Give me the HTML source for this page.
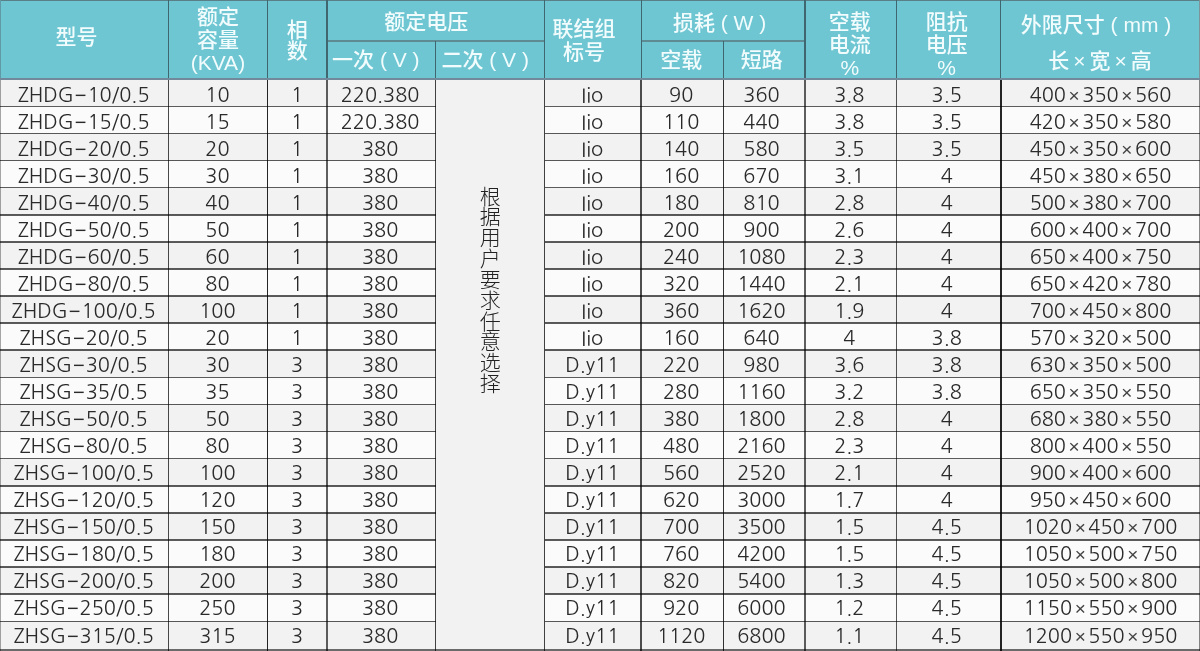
<!DOCTYPE html><html lang="zh-CN"><head><meta charset="utf-8"><title>ZHDG/ZHSG</title><style>
html,body{margin:0;padding:0;width:1200px;height:651px;overflow:hidden;background:#fff;position:relative}
.a{position:absolute;box-sizing:border-box}
.h{color:#f2fcfd;font-family:"Liberation Sans","Noto Sans CJK SC",sans-serif;font-size:21px;font-weight:500;text-align:center;white-space:nowrap;line-height:23px}
.t{color:#2a2a2a;font-family:"NanumGothic","Liberation Sans",sans-serif;font-size:20px;text-align:center;white-space:nowrap}
.x{margin:0 2.6px;font-family:"Liberation Sans",sans-serif;font-size:19px;color:#444}
.xh{margin:0 4px}
.m{margin:0 1px}
.ln{mix-blend-mode:multiply}
</style></head><body>
<div class="a" style="left:0;top:0;width:1200px;height:78.30px;background:#6ec6d2"></div>
<div class="a" style="left:0;top:78.30px;width:1200px;height:28.00px;background:#f2f2f2"></div>
<div class="a" style="left:0;top:106.30px;width:1200px;height:27.11px;background:#fbfbfb"></div>
<div class="a" style="left:0;top:133.41px;width:1200px;height:27.10px;background:#f2f2f2"></div>
<div class="a" style="left:0;top:160.51px;width:1200px;height:27.11px;background:#fbfbfb"></div>
<div class="a" style="left:0;top:187.62px;width:1200px;height:27.10px;background:#f2f2f2"></div>
<div class="a" style="left:0;top:214.72px;width:1200px;height:27.10px;background:#fbfbfb"></div>
<div class="a" style="left:0;top:241.82px;width:1200px;height:27.11px;background:#f2f2f2"></div>
<div class="a" style="left:0;top:268.93px;width:1200px;height:27.11px;background:#fbfbfb"></div>
<div class="a" style="left:0;top:296.04px;width:1200px;height:27.10px;background:#f2f2f2"></div>
<div class="a" style="left:0;top:323.14px;width:1200px;height:27.11px;background:#fbfbfb"></div>
<div class="a" style="left:0;top:350.25px;width:1200px;height:27.11px;background:#f2f2f2"></div>
<div class="a" style="left:0;top:377.35px;width:1200px;height:27.11px;background:#fbfbfb"></div>
<div class="a" style="left:0;top:404.46px;width:1200px;height:27.10px;background:#f2f2f2"></div>
<div class="a" style="left:0;top:431.56px;width:1200px;height:27.11px;background:#fbfbfb"></div>
<div class="a" style="left:0;top:458.67px;width:1200px;height:27.11px;background:#f2f2f2"></div>
<div class="a" style="left:0;top:485.77px;width:1200px;height:27.10px;background:#fbfbfb"></div>
<div class="a" style="left:0;top:512.88px;width:1200px;height:27.11px;background:#f2f2f2"></div>
<div class="a" style="left:0;top:539.98px;width:1200px;height:27.11px;background:#fbfbfb"></div>
<div class="a" style="left:0;top:567.09px;width:1200px;height:27.10px;background:#f2f2f2"></div>
<div class="a" style="left:0;top:594.19px;width:1200px;height:27.11px;background:#fbfbfb"></div>
<div class="a" style="left:0;top:621.29px;width:1200px;height:28.11px;background:#f2f2f2"></div>
<div class="a" style="left:435.60px;top:78.30px;width:109.10px;height:571.10px;background:#f2f2f2"></div>
<div class="a" style="left:0.00px;top:0.00px;width:1200.00px;height:1.20px;background:#5b7f86"></div>
<div class="a ln" style="left:0.00px;top:105.50px;width:435.60px;height:1.60px;background:#5c5c5c"></div>
<div class="a ln" style="left:544.70px;top:105.50px;width:655.30px;height:1.60px;background:#5c5c5c"></div>
<div class="a ln" style="left:0.00px;top:132.60px;width:435.60px;height:1.60px;background:#5c5c5c"></div>
<div class="a ln" style="left:544.70px;top:132.60px;width:655.30px;height:1.60px;background:#5c5c5c"></div>
<div class="a ln" style="left:0.00px;top:159.71px;width:435.60px;height:1.60px;background:#5c5c5c"></div>
<div class="a ln" style="left:544.70px;top:159.71px;width:655.30px;height:1.60px;background:#5c5c5c"></div>
<div class="a ln" style="left:0.00px;top:186.81px;width:435.60px;height:1.60px;background:#5c5c5c"></div>
<div class="a ln" style="left:544.70px;top:186.81px;width:655.30px;height:1.60px;background:#5c5c5c"></div>
<div class="a ln" style="left:0.00px;top:213.92px;width:435.60px;height:1.60px;background:#5c5c5c"></div>
<div class="a ln" style="left:544.70px;top:213.92px;width:655.30px;height:1.60px;background:#5c5c5c"></div>
<div class="a ln" style="left:0.00px;top:241.02px;width:435.60px;height:1.60px;background:#5c5c5c"></div>
<div class="a ln" style="left:544.70px;top:241.02px;width:655.30px;height:1.60px;background:#5c5c5c"></div>
<div class="a ln" style="left:0.00px;top:268.13px;width:435.60px;height:1.60px;background:#5c5c5c"></div>
<div class="a ln" style="left:544.70px;top:268.13px;width:655.30px;height:1.60px;background:#5c5c5c"></div>
<div class="a ln" style="left:0.00px;top:295.24px;width:435.60px;height:1.60px;background:#5c5c5c"></div>
<div class="a ln" style="left:544.70px;top:295.24px;width:655.30px;height:1.60px;background:#5c5c5c"></div>
<div class="a ln" style="left:0.00px;top:322.34px;width:435.60px;height:1.60px;background:#5c5c5c"></div>
<div class="a ln" style="left:544.70px;top:322.34px;width:655.30px;height:1.60px;background:#5c5c5c"></div>
<div class="a ln" style="left:0.00px;top:349.44px;width:435.60px;height:1.60px;background:#5c5c5c"></div>
<div class="a ln" style="left:544.70px;top:349.44px;width:655.30px;height:1.60px;background:#5c5c5c"></div>
<div class="a ln" style="left:0.00px;top:376.55px;width:435.60px;height:1.60px;background:#5c5c5c"></div>
<div class="a ln" style="left:544.70px;top:376.55px;width:655.30px;height:1.60px;background:#5c5c5c"></div>
<div class="a ln" style="left:0.00px;top:403.66px;width:435.60px;height:1.60px;background:#5c5c5c"></div>
<div class="a ln" style="left:544.70px;top:403.66px;width:655.30px;height:1.60px;background:#5c5c5c"></div>
<div class="a ln" style="left:0.00px;top:430.76px;width:435.60px;height:1.60px;background:#5c5c5c"></div>
<div class="a ln" style="left:544.70px;top:430.76px;width:655.30px;height:1.60px;background:#5c5c5c"></div>
<div class="a ln" style="left:0.00px;top:457.87px;width:435.60px;height:1.60px;background:#5c5c5c"></div>
<div class="a ln" style="left:544.70px;top:457.87px;width:655.30px;height:1.60px;background:#5c5c5c"></div>
<div class="a ln" style="left:0.00px;top:484.97px;width:435.60px;height:1.60px;background:#5c5c5c"></div>
<div class="a ln" style="left:544.70px;top:484.97px;width:655.30px;height:1.60px;background:#5c5c5c"></div>
<div class="a ln" style="left:0.00px;top:512.08px;width:435.60px;height:1.60px;background:#5c5c5c"></div>
<div class="a ln" style="left:544.70px;top:512.08px;width:655.30px;height:1.60px;background:#5c5c5c"></div>
<div class="a ln" style="left:0.00px;top:539.18px;width:435.60px;height:1.60px;background:#5c5c5c"></div>
<div class="a ln" style="left:544.70px;top:539.18px;width:655.30px;height:1.60px;background:#5c5c5c"></div>
<div class="a ln" style="left:0.00px;top:566.29px;width:435.60px;height:1.60px;background:#5c5c5c"></div>
<div class="a ln" style="left:544.70px;top:566.29px;width:655.30px;height:1.60px;background:#5c5c5c"></div>
<div class="a ln" style="left:0.00px;top:593.39px;width:435.60px;height:1.60px;background:#5c5c5c"></div>
<div class="a ln" style="left:544.70px;top:593.39px;width:655.30px;height:1.60px;background:#5c5c5c"></div>
<div class="a ln" style="left:0.00px;top:620.50px;width:435.60px;height:1.60px;background:#5c5c5c"></div>
<div class="a ln" style="left:544.70px;top:620.50px;width:655.30px;height:1.60px;background:#5c5c5c"></div>
<div class="a ln" style="left:0.00px;top:648.70px;width:1200.00px;height:2.30px;background:#6a6a6a"></div>
<div class="a" style="left:327.00px;top:40.45px;width:217.70px;height:1.50px;background:#5e8b93"></div>
<div class="a" style="left:641.20px;top:40.45px;width:163.80px;height:1.50px;background:#5e8b93"></div>
<div class="a" style="left:0.00px;top:0.00px;width:1.20px;height:78.30px;background:#5f9aa6"></div>
<div class="a ln" style="left:0.00px;top:78.30px;width:1.20px;height:572.70px;background:#a8a8a8"></div>
<div class="a" style="left:167.85px;top:0.00px;width:1.30px;height:78.30px;background:#40666f"></div>
<div class="a ln" style="left:167.70px;top:78.30px;width:1.60px;height:572.70px;background:#4a4a4a"></div>
<div class="a" style="left:266.65px;top:0.00px;width:1.30px;height:78.30px;background:#40666f"></div>
<div class="a ln" style="left:266.55px;top:78.30px;width:1.50px;height:572.70px;background:#262626"></div>
<div class="a" style="left:326.35px;top:0.00px;width:1.30px;height:78.30px;background:#40666f"></div>
<div class="a ln" style="left:326.10px;top:78.30px;width:1.80px;height:572.70px;background:#606060"></div>
<div class="a" style="left:434.95px;top:41.20px;width:1.30px;height:37.10px;background:#40666f"></div>
<div class="a ln" style="left:434.90px;top:78.30px;width:1.40px;height:572.70px;background:#444"></div>
<div class="a" style="left:544.05px;top:0.00px;width:1.30px;height:78.30px;background:#40666f"></div>
<div class="a ln" style="left:543.95px;top:78.30px;width:1.50px;height:572.70px;background:#444"></div>
<div class="a" style="left:640.55px;top:0.00px;width:1.30px;height:78.30px;background:#40666f"></div>
<div class="a ln" style="left:640.35px;top:78.30px;width:1.70px;height:572.70px;background:#505050"></div>
<div class="a" style="left:722.75px;top:41.20px;width:1.30px;height:37.10px;background:#40666f"></div>
<div class="a ln" style="left:722.65px;top:78.30px;width:1.50px;height:572.70px;background:#333"></div>
<div class="a" style="left:804.35px;top:0.00px;width:1.30px;height:78.30px;background:#40666f"></div>
<div class="a ln" style="left:804.05px;top:78.30px;width:1.90px;height:572.70px;background:#606060"></div>
<div class="a" style="left:895.95px;top:0.00px;width:1.30px;height:78.30px;background:#40666f"></div>
<div class="a ln" style="left:895.75px;top:78.30px;width:1.70px;height:572.70px;background:#585858"></div>
<div class="a" style="left:1000.15px;top:0.00px;width:1.30px;height:78.30px;background:#40666f"></div>
<div class="a ln" style="left:1000.05px;top:78.30px;width:1.50px;height:572.70px;background:#262626"></div>
<div class="a" style="left:1198.60px;top:0.00px;width:1.40px;height:78.30px;background:#7d949a"></div>
<div class="a ln" style="left:1198.60px;top:78.30px;width:1.40px;height:572.70px;background:#8a8a8a"></div>
<div class="a" style="left:0.00px;top:77.70px;width:1200.00px;height:2.00px;background:#71899a"></div>
<div class="a h" style="left:-7.50px;top:24.50px;width:168.00px;">型号</div>
<div class="a h" style="left:168.50px;top:5.00px;width:98.80px;">额定<br>容量<br>(KVA)</div>
<div class="a h" style="left:267.30px;top:19.00px;width:59.70px;line-height:21.2px">相<br>数</div>
<div class="a h" style="left:317.50px;top:10.00px;width:217.70px;">额定电压</div>
<div class="a h" style="left:321.50px;top:48.00px;width:108.60px;">一次 ( V )</div>
<div class="a h" style="left:430.60px;top:48.00px;width:109.10px;">二次 ( V )</div>
<div class="a h" style="left:535.70px;top:17.00px;width:96.50px;">联结组<br>标号</div>
<div class="a h" style="left:637.70px;top:10.50px;width:163.80px;">损耗 ( W )</div>
<div class="a h" style="left:640.20px;top:48.00px;width:82.20px;">空载</div>
<div class="a h" style="left:720.90px;top:48.00px;width:81.60px;">短路</div>
<div class="a h" style="left:804.00px;top:10.00px;width:91.60px;">空载<br>电流<br>%</div>
<div class="a h" style="left:894.60px;top:10.00px;width:104.20px;">阻抗<br>电压<br>%</div>
<div class="a h" style="left:996.80px;top:13.00px;width:198.40px;">外限尺寸 ( mm )</div>
<div class="a h" style="left:1000.80px;top:49.00px;width:198.40px;">长<span class="xh">×</span>宽<span class="xh">×</span>高</div>
<div class="a t" style="left:-0.30px;top:80.10px;width:168.00px;height:28.00px;line-height:28.00px;padding-top:1px">ZHDG<span class="m">−</span>10/0.5</div>
<div class="a t" style="left:168.00px;top:80.10px;width:98.80px;height:28.00px;line-height:28.00px;padding-top:1px">10</div>
<div class="a t" style="left:267.30px;top:80.10px;width:59.70px;height:28.00px;line-height:28.00px;padding-top:1px">1</div>
<div class="a t" style="left:325.80px;top:80.10px;width:108.60px;height:28.00px;line-height:28.00px;padding-top:1px">220.380</div>
<div class="a t" style="left:544.00px;top:80.10px;width:96.50px;height:28.00px;line-height:28.00px;padding-top:1px">Iio</div>
<div class="a t" style="left:640.10px;top:80.10px;width:82.20px;height:28.00px;line-height:28.00px;padding-top:1px">90</div>
<div class="a t" style="left:720.70px;top:80.10px;width:81.60px;height:28.00px;line-height:28.00px;padding-top:1px">360</div>
<div class="a t" style="left:803.50px;top:80.10px;width:91.60px;height:28.00px;line-height:28.00px;padding-top:1px">3.8</div>
<div class="a t" style="left:894.60px;top:80.10px;width:104.20px;height:28.00px;line-height:28.00px;padding-top:1px">3.5</div>
<div class="a t" style="left:1001.30px;top:80.10px;width:198.40px;height:28.00px;line-height:28.00px;padding-top:1px">400<span class="x">×</span>350<span class="x">×</span>560</div>
<div class="a t" style="left:-0.30px;top:107.99px;width:168.00px;height:27.11px;line-height:27.11px;padding-top:1px">ZHDG<span class="m">−</span>15/0.5</div>
<div class="a t" style="left:168.00px;top:107.99px;width:98.80px;height:27.11px;line-height:27.11px;padding-top:1px">15</div>
<div class="a t" style="left:267.30px;top:107.99px;width:59.70px;height:27.11px;line-height:27.11px;padding-top:1px">1</div>
<div class="a t" style="left:325.80px;top:107.99px;width:108.60px;height:27.11px;line-height:27.11px;padding-top:1px">220.380</div>
<div class="a t" style="left:544.00px;top:107.99px;width:96.50px;height:27.11px;line-height:27.11px;padding-top:1px">Iio</div>
<div class="a t" style="left:640.10px;top:107.99px;width:82.20px;height:27.11px;line-height:27.11px;padding-top:1px">110</div>
<div class="a t" style="left:720.70px;top:107.99px;width:81.60px;height:27.11px;line-height:27.11px;padding-top:1px">440</div>
<div class="a t" style="left:803.50px;top:107.99px;width:91.60px;height:27.11px;line-height:27.11px;padding-top:1px">3.8</div>
<div class="a t" style="left:894.60px;top:107.99px;width:104.20px;height:27.11px;line-height:27.11px;padding-top:1px">3.5</div>
<div class="a t" style="left:1001.30px;top:107.99px;width:198.40px;height:27.11px;line-height:27.11px;padding-top:1px">420<span class="x">×</span>350<span class="x">×</span>580</div>
<div class="a t" style="left:-0.30px;top:134.99px;width:168.00px;height:27.10px;line-height:27.10px;padding-top:1px">ZHDG<span class="m">−</span>20/0.5</div>
<div class="a t" style="left:168.00px;top:134.99px;width:98.80px;height:27.10px;line-height:27.10px;padding-top:1px">20</div>
<div class="a t" style="left:267.30px;top:134.99px;width:59.70px;height:27.10px;line-height:27.10px;padding-top:1px">1</div>
<div class="a t" style="left:325.80px;top:134.99px;width:108.60px;height:27.10px;line-height:27.10px;padding-top:1px">380</div>
<div class="a t" style="left:544.00px;top:134.99px;width:96.50px;height:27.10px;line-height:27.10px;padding-top:1px">Iio</div>
<div class="a t" style="left:640.10px;top:134.99px;width:82.20px;height:27.10px;line-height:27.10px;padding-top:1px">140</div>
<div class="a t" style="left:720.70px;top:134.99px;width:81.60px;height:27.10px;line-height:27.10px;padding-top:1px">580</div>
<div class="a t" style="left:803.50px;top:134.99px;width:91.60px;height:27.10px;line-height:27.10px;padding-top:1px">3.5</div>
<div class="a t" style="left:894.60px;top:134.99px;width:104.20px;height:27.10px;line-height:27.10px;padding-top:1px">3.5</div>
<div class="a t" style="left:1001.30px;top:134.99px;width:198.40px;height:27.10px;line-height:27.10px;padding-top:1px">450<span class="x">×</span>350<span class="x">×</span>600</div>
<div class="a t" style="left:-0.30px;top:161.98px;width:168.00px;height:27.11px;line-height:27.11px;padding-top:1px">ZHDG<span class="m">−</span>30/0.5</div>
<div class="a t" style="left:168.00px;top:161.98px;width:98.80px;height:27.11px;line-height:27.11px;padding-top:1px">30</div>
<div class="a t" style="left:267.30px;top:161.98px;width:59.70px;height:27.11px;line-height:27.11px;padding-top:1px">1</div>
<div class="a t" style="left:325.80px;top:161.98px;width:108.60px;height:27.11px;line-height:27.11px;padding-top:1px">380</div>
<div class="a t" style="left:544.00px;top:161.98px;width:96.50px;height:27.11px;line-height:27.11px;padding-top:1px">Iio</div>
<div class="a t" style="left:640.10px;top:161.98px;width:82.20px;height:27.11px;line-height:27.11px;padding-top:1px">160</div>
<div class="a t" style="left:720.70px;top:161.98px;width:81.60px;height:27.11px;line-height:27.11px;padding-top:1px">670</div>
<div class="a t" style="left:803.50px;top:161.98px;width:91.60px;height:27.11px;line-height:27.11px;padding-top:1px">3.1</div>
<div class="a t" style="left:894.60px;top:161.98px;width:104.20px;height:27.11px;line-height:27.11px;padding-top:1px">4</div>
<div class="a t" style="left:1001.30px;top:161.98px;width:198.40px;height:27.11px;line-height:27.11px;padding-top:1px">450<span class="x">×</span>380<span class="x">×</span>650</div>
<div class="a t" style="left:-0.30px;top:188.98px;width:168.00px;height:27.10px;line-height:27.10px;padding-top:1px">ZHDG<span class="m">−</span>40/0.5</div>
<div class="a t" style="left:168.00px;top:188.98px;width:98.80px;height:27.10px;line-height:27.10px;padding-top:1px">40</div>
<div class="a t" style="left:267.30px;top:188.98px;width:59.70px;height:27.10px;line-height:27.10px;padding-top:1px">1</div>
<div class="a t" style="left:325.80px;top:188.98px;width:108.60px;height:27.10px;line-height:27.10px;padding-top:1px">380</div>
<div class="a t" style="left:544.00px;top:188.98px;width:96.50px;height:27.10px;line-height:27.10px;padding-top:1px">Iio</div>
<div class="a t" style="left:640.10px;top:188.98px;width:82.20px;height:27.10px;line-height:27.10px;padding-top:1px">180</div>
<div class="a t" style="left:720.70px;top:188.98px;width:81.60px;height:27.10px;line-height:27.10px;padding-top:1px">810</div>
<div class="a t" style="left:803.50px;top:188.98px;width:91.60px;height:27.10px;line-height:27.10px;padding-top:1px">2.8</div>
<div class="a t" style="left:894.60px;top:188.98px;width:104.20px;height:27.10px;line-height:27.10px;padding-top:1px">4</div>
<div class="a t" style="left:1001.30px;top:188.98px;width:198.40px;height:27.10px;line-height:27.10px;padding-top:1px">500<span class="x">×</span>380<span class="x">×</span>700</div>
<div class="a t" style="left:-0.30px;top:215.97px;width:168.00px;height:27.10px;line-height:27.10px;padding-top:1px">ZHDG<span class="m">−</span>50/0.5</div>
<div class="a t" style="left:168.00px;top:215.97px;width:98.80px;height:27.10px;line-height:27.10px;padding-top:1px">50</div>
<div class="a t" style="left:267.30px;top:215.97px;width:59.70px;height:27.10px;line-height:27.10px;padding-top:1px">1</div>
<div class="a t" style="left:325.80px;top:215.97px;width:108.60px;height:27.10px;line-height:27.10px;padding-top:1px">380</div>
<div class="a t" style="left:544.00px;top:215.97px;width:96.50px;height:27.10px;line-height:27.10px;padding-top:1px">Iio</div>
<div class="a t" style="left:640.10px;top:215.97px;width:82.20px;height:27.10px;line-height:27.10px;padding-top:1px">200</div>
<div class="a t" style="left:720.70px;top:215.97px;width:81.60px;height:27.10px;line-height:27.10px;padding-top:1px">900</div>
<div class="a t" style="left:803.50px;top:215.97px;width:91.60px;height:27.10px;line-height:27.10px;padding-top:1px">2.6</div>
<div class="a t" style="left:894.60px;top:215.97px;width:104.20px;height:27.10px;line-height:27.10px;padding-top:1px">4</div>
<div class="a t" style="left:1001.30px;top:215.97px;width:198.40px;height:27.10px;line-height:27.10px;padding-top:1px">600<span class="x">×</span>400<span class="x">×</span>700</div>
<div class="a t" style="left:-0.30px;top:242.97px;width:168.00px;height:27.11px;line-height:27.11px;padding-top:1px">ZHDG<span class="m">−</span>60/0.5</div>
<div class="a t" style="left:168.00px;top:242.97px;width:98.80px;height:27.11px;line-height:27.11px;padding-top:1px">60</div>
<div class="a t" style="left:267.30px;top:242.97px;width:59.70px;height:27.11px;line-height:27.11px;padding-top:1px">1</div>
<div class="a t" style="left:325.80px;top:242.97px;width:108.60px;height:27.11px;line-height:27.11px;padding-top:1px">380</div>
<div class="a t" style="left:544.00px;top:242.97px;width:96.50px;height:27.11px;line-height:27.11px;padding-top:1px">Iio</div>
<div class="a t" style="left:640.10px;top:242.97px;width:82.20px;height:27.11px;line-height:27.11px;padding-top:1px">240</div>
<div class="a t" style="left:720.70px;top:242.97px;width:81.60px;height:27.11px;line-height:27.11px;padding-top:1px">1080</div>
<div class="a t" style="left:803.50px;top:242.97px;width:91.60px;height:27.11px;line-height:27.11px;padding-top:1px">2.3</div>
<div class="a t" style="left:894.60px;top:242.97px;width:104.20px;height:27.11px;line-height:27.11px;padding-top:1px">4</div>
<div class="a t" style="left:1001.30px;top:242.97px;width:198.40px;height:27.11px;line-height:27.11px;padding-top:1px">650<span class="x">×</span>400<span class="x">×</span>750</div>
<div class="a t" style="left:-0.30px;top:269.96px;width:168.00px;height:27.11px;line-height:27.11px;padding-top:1px">ZHDG<span class="m">−</span>80/0.5</div>
<div class="a t" style="left:168.00px;top:269.96px;width:98.80px;height:27.11px;line-height:27.11px;padding-top:1px">80</div>
<div class="a t" style="left:267.30px;top:269.96px;width:59.70px;height:27.11px;line-height:27.11px;padding-top:1px">1</div>
<div class="a t" style="left:325.80px;top:269.96px;width:108.60px;height:27.11px;line-height:27.11px;padding-top:1px">380</div>
<div class="a t" style="left:544.00px;top:269.96px;width:96.50px;height:27.11px;line-height:27.11px;padding-top:1px">Iio</div>
<div class="a t" style="left:640.10px;top:269.96px;width:82.20px;height:27.11px;line-height:27.11px;padding-top:1px">320</div>
<div class="a t" style="left:720.70px;top:269.96px;width:81.60px;height:27.11px;line-height:27.11px;padding-top:1px">1440</div>
<div class="a t" style="left:803.50px;top:269.96px;width:91.60px;height:27.11px;line-height:27.11px;padding-top:1px">2.1</div>
<div class="a t" style="left:894.60px;top:269.96px;width:104.20px;height:27.11px;line-height:27.11px;padding-top:1px">4</div>
<div class="a t" style="left:1001.30px;top:269.96px;width:198.40px;height:27.11px;line-height:27.11px;padding-top:1px">650<span class="x">×</span>420<span class="x">×</span>780</div>
<div class="a t" style="left:-0.30px;top:296.96px;width:168.00px;height:27.10px;line-height:27.10px;padding-top:1px">ZHDG<span class="m">−</span>100/0.5</div>
<div class="a t" style="left:168.00px;top:296.96px;width:98.80px;height:27.10px;line-height:27.10px;padding-top:1px">100</div>
<div class="a t" style="left:267.30px;top:296.96px;width:59.70px;height:27.10px;line-height:27.10px;padding-top:1px">1</div>
<div class="a t" style="left:325.80px;top:296.96px;width:108.60px;height:27.10px;line-height:27.10px;padding-top:1px">380</div>
<div class="a t" style="left:544.00px;top:296.96px;width:96.50px;height:27.10px;line-height:27.10px;padding-top:1px">Iio</div>
<div class="a t" style="left:640.10px;top:296.96px;width:82.20px;height:27.10px;line-height:27.10px;padding-top:1px">360</div>
<div class="a t" style="left:720.70px;top:296.96px;width:81.60px;height:27.10px;line-height:27.10px;padding-top:1px">1620</div>
<div class="a t" style="left:803.50px;top:296.96px;width:91.60px;height:27.10px;line-height:27.10px;padding-top:1px">1.9</div>
<div class="a t" style="left:894.60px;top:296.96px;width:104.20px;height:27.10px;line-height:27.10px;padding-top:1px">4</div>
<div class="a t" style="left:1001.30px;top:296.96px;width:198.40px;height:27.10px;line-height:27.10px;padding-top:1px">700<span class="x">×</span>450<span class="x">×</span>800</div>
<div class="a t" style="left:-0.30px;top:323.95px;width:168.00px;height:27.11px;line-height:27.11px;padding-top:1px">ZHSG<span class="m">−</span>20/0.5</div>
<div class="a t" style="left:168.00px;top:323.95px;width:98.80px;height:27.11px;line-height:27.11px;padding-top:1px">20</div>
<div class="a t" style="left:267.30px;top:323.95px;width:59.70px;height:27.11px;line-height:27.11px;padding-top:1px">1</div>
<div class="a t" style="left:325.80px;top:323.95px;width:108.60px;height:27.11px;line-height:27.11px;padding-top:1px">380</div>
<div class="a t" style="left:544.00px;top:323.95px;width:96.50px;height:27.11px;line-height:27.11px;padding-top:1px">Iio</div>
<div class="a t" style="left:640.10px;top:323.95px;width:82.20px;height:27.11px;line-height:27.11px;padding-top:1px">160</div>
<div class="a t" style="left:720.70px;top:323.95px;width:81.60px;height:27.11px;line-height:27.11px;padding-top:1px">640</div>
<div class="a t" style="left:803.50px;top:323.95px;width:91.60px;height:27.11px;line-height:27.11px;padding-top:1px">4</div>
<div class="a t" style="left:894.60px;top:323.95px;width:104.20px;height:27.11px;line-height:27.11px;padding-top:1px">3.8</div>
<div class="a t" style="left:1001.30px;top:323.95px;width:198.40px;height:27.11px;line-height:27.11px;padding-top:1px">570<span class="x">×</span>320<span class="x">×</span>500</div>
<div class="a t" style="left:-0.30px;top:350.94px;width:168.00px;height:27.11px;line-height:27.11px;padding-top:1px">ZHSG<span class="m">−</span>30/0.5</div>
<div class="a t" style="left:168.00px;top:350.94px;width:98.80px;height:27.11px;line-height:27.11px;padding-top:1px">30</div>
<div class="a t" style="left:267.30px;top:350.94px;width:59.70px;height:27.11px;line-height:27.11px;padding-top:1px">3</div>
<div class="a t" style="left:325.80px;top:350.94px;width:108.60px;height:27.11px;line-height:27.11px;padding-top:1px">380</div>
<div class="a t" style="left:544.00px;top:350.94px;width:96.50px;height:27.11px;line-height:27.11px;padding-top:1px">D.y11</div>
<div class="a t" style="left:640.10px;top:350.94px;width:82.20px;height:27.11px;line-height:27.11px;padding-top:1px">220</div>
<div class="a t" style="left:720.70px;top:350.94px;width:81.60px;height:27.11px;line-height:27.11px;padding-top:1px">980</div>
<div class="a t" style="left:803.50px;top:350.94px;width:91.60px;height:27.11px;line-height:27.11px;padding-top:1px">3.6</div>
<div class="a t" style="left:894.60px;top:350.94px;width:104.20px;height:27.11px;line-height:27.11px;padding-top:1px">3.8</div>
<div class="a t" style="left:1001.30px;top:350.94px;width:198.40px;height:27.11px;line-height:27.11px;padding-top:1px">630<span class="x">×</span>350<span class="x">×</span>500</div>
<div class="a t" style="left:-0.30px;top:377.94px;width:168.00px;height:27.11px;line-height:27.11px;padding-top:1px">ZHSG<span class="m">−</span>35/0.5</div>
<div class="a t" style="left:168.00px;top:377.94px;width:98.80px;height:27.11px;line-height:27.11px;padding-top:1px">35</div>
<div class="a t" style="left:267.30px;top:377.94px;width:59.70px;height:27.11px;line-height:27.11px;padding-top:1px">3</div>
<div class="a t" style="left:325.80px;top:377.94px;width:108.60px;height:27.11px;line-height:27.11px;padding-top:1px">380</div>
<div class="a t" style="left:544.00px;top:377.94px;width:96.50px;height:27.11px;line-height:27.11px;padding-top:1px">D.y11</div>
<div class="a t" style="left:640.10px;top:377.94px;width:82.20px;height:27.11px;line-height:27.11px;padding-top:1px">280</div>
<div class="a t" style="left:720.70px;top:377.94px;width:81.60px;height:27.11px;line-height:27.11px;padding-top:1px">1160</div>
<div class="a t" style="left:803.50px;top:377.94px;width:91.60px;height:27.11px;line-height:27.11px;padding-top:1px">3.2</div>
<div class="a t" style="left:894.60px;top:377.94px;width:104.20px;height:27.11px;line-height:27.11px;padding-top:1px">3.8</div>
<div class="a t" style="left:1001.30px;top:377.94px;width:198.40px;height:27.11px;line-height:27.11px;padding-top:1px">650<span class="x">×</span>350<span class="x">×</span>550</div>
<div class="a t" style="left:-0.30px;top:404.94px;width:168.00px;height:27.10px;line-height:27.10px;padding-top:1px">ZHSG<span class="m">−</span>50/0.5</div>
<div class="a t" style="left:168.00px;top:404.94px;width:98.80px;height:27.10px;line-height:27.10px;padding-top:1px">50</div>
<div class="a t" style="left:267.30px;top:404.94px;width:59.70px;height:27.10px;line-height:27.10px;padding-top:1px">3</div>
<div class="a t" style="left:325.80px;top:404.94px;width:108.60px;height:27.10px;line-height:27.10px;padding-top:1px">380</div>
<div class="a t" style="left:544.00px;top:404.94px;width:96.50px;height:27.10px;line-height:27.10px;padding-top:1px">D.y11</div>
<div class="a t" style="left:640.10px;top:404.94px;width:82.20px;height:27.10px;line-height:27.10px;padding-top:1px">380</div>
<div class="a t" style="left:720.70px;top:404.94px;width:81.60px;height:27.10px;line-height:27.10px;padding-top:1px">1800</div>
<div class="a t" style="left:803.50px;top:404.94px;width:91.60px;height:27.10px;line-height:27.10px;padding-top:1px">2.8</div>
<div class="a t" style="left:894.60px;top:404.94px;width:104.20px;height:27.10px;line-height:27.10px;padding-top:1px">4</div>
<div class="a t" style="left:1001.30px;top:404.94px;width:198.40px;height:27.10px;line-height:27.10px;padding-top:1px">680<span class="x">×</span>380<span class="x">×</span>550</div>
<div class="a t" style="left:-0.30px;top:431.93px;width:168.00px;height:27.11px;line-height:27.11px;padding-top:1px">ZHSG<span class="m">−</span>80/0.5</div>
<div class="a t" style="left:168.00px;top:431.93px;width:98.80px;height:27.11px;line-height:27.11px;padding-top:1px">80</div>
<div class="a t" style="left:267.30px;top:431.93px;width:59.70px;height:27.11px;line-height:27.11px;padding-top:1px">3</div>
<div class="a t" style="left:325.80px;top:431.93px;width:108.60px;height:27.11px;line-height:27.11px;padding-top:1px">380</div>
<div class="a t" style="left:544.00px;top:431.93px;width:96.50px;height:27.11px;line-height:27.11px;padding-top:1px">D.y11</div>
<div class="a t" style="left:640.10px;top:431.93px;width:82.20px;height:27.11px;line-height:27.11px;padding-top:1px">480</div>
<div class="a t" style="left:720.70px;top:431.93px;width:81.60px;height:27.11px;line-height:27.11px;padding-top:1px">2160</div>
<div class="a t" style="left:803.50px;top:431.93px;width:91.60px;height:27.11px;line-height:27.11px;padding-top:1px">2.3</div>
<div class="a t" style="left:894.60px;top:431.93px;width:104.20px;height:27.11px;line-height:27.11px;padding-top:1px">4</div>
<div class="a t" style="left:1001.30px;top:431.93px;width:198.40px;height:27.11px;line-height:27.11px;padding-top:1px">800<span class="x">×</span>400<span class="x">×</span>550</div>
<div class="a t" style="left:-0.30px;top:458.93px;width:168.00px;height:27.11px;line-height:27.11px;padding-top:1px">ZHSG<span class="m">−</span>100/0.5</div>
<div class="a t" style="left:168.00px;top:458.93px;width:98.80px;height:27.11px;line-height:27.11px;padding-top:1px">100</div>
<div class="a t" style="left:267.30px;top:458.93px;width:59.70px;height:27.11px;line-height:27.11px;padding-top:1px">3</div>
<div class="a t" style="left:325.80px;top:458.93px;width:108.60px;height:27.11px;line-height:27.11px;padding-top:1px">380</div>
<div class="a t" style="left:544.00px;top:458.93px;width:96.50px;height:27.11px;line-height:27.11px;padding-top:1px">D.y11</div>
<div class="a t" style="left:640.10px;top:458.93px;width:82.20px;height:27.11px;line-height:27.11px;padding-top:1px">560</div>
<div class="a t" style="left:720.70px;top:458.93px;width:81.60px;height:27.11px;line-height:27.11px;padding-top:1px">2520</div>
<div class="a t" style="left:803.50px;top:458.93px;width:91.60px;height:27.11px;line-height:27.11px;padding-top:1px">2.1</div>
<div class="a t" style="left:894.60px;top:458.93px;width:104.20px;height:27.11px;line-height:27.11px;padding-top:1px">4</div>
<div class="a t" style="left:1001.30px;top:458.93px;width:198.40px;height:27.11px;line-height:27.11px;padding-top:1px">900<span class="x">×</span>400<span class="x">×</span>600</div>
<div class="a t" style="left:-0.30px;top:485.92px;width:168.00px;height:27.10px;line-height:27.10px;padding-top:1px">ZHSG<span class="m">−</span>120/0.5</div>
<div class="a t" style="left:168.00px;top:485.92px;width:98.80px;height:27.10px;line-height:27.10px;padding-top:1px">120</div>
<div class="a t" style="left:267.30px;top:485.92px;width:59.70px;height:27.10px;line-height:27.10px;padding-top:1px">3</div>
<div class="a t" style="left:325.80px;top:485.92px;width:108.60px;height:27.10px;line-height:27.10px;padding-top:1px">380</div>
<div class="a t" style="left:544.00px;top:485.92px;width:96.50px;height:27.10px;line-height:27.10px;padding-top:1px">D.y11</div>
<div class="a t" style="left:640.10px;top:485.92px;width:82.20px;height:27.10px;line-height:27.10px;padding-top:1px">620</div>
<div class="a t" style="left:720.70px;top:485.92px;width:81.60px;height:27.10px;line-height:27.10px;padding-top:1px">3000</div>
<div class="a t" style="left:803.50px;top:485.92px;width:91.60px;height:27.10px;line-height:27.10px;padding-top:1px">1.7</div>
<div class="a t" style="left:894.60px;top:485.92px;width:104.20px;height:27.10px;line-height:27.10px;padding-top:1px">4</div>
<div class="a t" style="left:1001.30px;top:485.92px;width:198.40px;height:27.10px;line-height:27.10px;padding-top:1px">950<span class="x">×</span>450<span class="x">×</span>600</div>
<div class="a t" style="left:-0.30px;top:512.91px;width:168.00px;height:27.11px;line-height:27.11px;padding-top:1px">ZHSG<span class="m">−</span>150/0.5</div>
<div class="a t" style="left:168.00px;top:512.91px;width:98.80px;height:27.11px;line-height:27.11px;padding-top:1px">150</div>
<div class="a t" style="left:267.30px;top:512.91px;width:59.70px;height:27.11px;line-height:27.11px;padding-top:1px">3</div>
<div class="a t" style="left:325.80px;top:512.91px;width:108.60px;height:27.11px;line-height:27.11px;padding-top:1px">380</div>
<div class="a t" style="left:544.00px;top:512.91px;width:96.50px;height:27.11px;line-height:27.11px;padding-top:1px">D.y11</div>
<div class="a t" style="left:640.10px;top:512.91px;width:82.20px;height:27.11px;line-height:27.11px;padding-top:1px">700</div>
<div class="a t" style="left:720.70px;top:512.91px;width:81.60px;height:27.11px;line-height:27.11px;padding-top:1px">3500</div>
<div class="a t" style="left:803.50px;top:512.91px;width:91.60px;height:27.11px;line-height:27.11px;padding-top:1px">1.5</div>
<div class="a t" style="left:894.60px;top:512.91px;width:104.20px;height:27.11px;line-height:27.11px;padding-top:1px">4.5</div>
<div class="a t" style="left:1001.30px;top:512.91px;width:198.40px;height:27.11px;line-height:27.11px;padding-top:1px">1020<span class="x">×</span>450<span class="x">×</span>700</div>
<div class="a t" style="left:-0.30px;top:539.91px;width:168.00px;height:27.11px;line-height:27.11px;padding-top:1px">ZHSG<span class="m">−</span>180/0.5</div>
<div class="a t" style="left:168.00px;top:539.91px;width:98.80px;height:27.11px;line-height:27.11px;padding-top:1px">180</div>
<div class="a t" style="left:267.30px;top:539.91px;width:59.70px;height:27.11px;line-height:27.11px;padding-top:1px">3</div>
<div class="a t" style="left:325.80px;top:539.91px;width:108.60px;height:27.11px;line-height:27.11px;padding-top:1px">380</div>
<div class="a t" style="left:544.00px;top:539.91px;width:96.50px;height:27.11px;line-height:27.11px;padding-top:1px">D.y11</div>
<div class="a t" style="left:640.10px;top:539.91px;width:82.20px;height:27.11px;line-height:27.11px;padding-top:1px">760</div>
<div class="a t" style="left:720.70px;top:539.91px;width:81.60px;height:27.11px;line-height:27.11px;padding-top:1px">4200</div>
<div class="a t" style="left:803.50px;top:539.91px;width:91.60px;height:27.11px;line-height:27.11px;padding-top:1px">1.5</div>
<div class="a t" style="left:894.60px;top:539.91px;width:104.20px;height:27.11px;line-height:27.11px;padding-top:1px">4.5</div>
<div class="a t" style="left:1001.30px;top:539.91px;width:198.40px;height:27.11px;line-height:27.11px;padding-top:1px">1050<span class="x">×</span>500<span class="x">×</span>750</div>
<div class="a t" style="left:-0.30px;top:566.90px;width:168.00px;height:27.10px;line-height:27.10px;padding-top:1px">ZHSG<span class="m">−</span>200/0.5</div>
<div class="a t" style="left:168.00px;top:566.90px;width:98.80px;height:27.10px;line-height:27.10px;padding-top:1px">200</div>
<div class="a t" style="left:267.30px;top:566.90px;width:59.70px;height:27.10px;line-height:27.10px;padding-top:1px">3</div>
<div class="a t" style="left:325.80px;top:566.90px;width:108.60px;height:27.10px;line-height:27.10px;padding-top:1px">380</div>
<div class="a t" style="left:544.00px;top:566.90px;width:96.50px;height:27.10px;line-height:27.10px;padding-top:1px">D.y11</div>
<div class="a t" style="left:640.10px;top:566.90px;width:82.20px;height:27.10px;line-height:27.10px;padding-top:1px">820</div>
<div class="a t" style="left:720.70px;top:566.90px;width:81.60px;height:27.10px;line-height:27.10px;padding-top:1px">5400</div>
<div class="a t" style="left:803.50px;top:566.90px;width:91.60px;height:27.10px;line-height:27.10px;padding-top:1px">1.3</div>
<div class="a t" style="left:894.60px;top:566.90px;width:104.20px;height:27.10px;line-height:27.10px;padding-top:1px">4.5</div>
<div class="a t" style="left:1001.30px;top:566.90px;width:198.40px;height:27.10px;line-height:27.10px;padding-top:1px">1050<span class="x">×</span>500<span class="x">×</span>800</div>
<div class="a t" style="left:-0.30px;top:593.90px;width:168.00px;height:27.11px;line-height:27.11px;padding-top:1px">ZHSG<span class="m">−</span>250/0.5</div>
<div class="a t" style="left:168.00px;top:593.90px;width:98.80px;height:27.11px;line-height:27.11px;padding-top:1px">250</div>
<div class="a t" style="left:267.30px;top:593.90px;width:59.70px;height:27.11px;line-height:27.11px;padding-top:1px">3</div>
<div class="a t" style="left:325.80px;top:593.90px;width:108.60px;height:27.11px;line-height:27.11px;padding-top:1px">380</div>
<div class="a t" style="left:544.00px;top:593.90px;width:96.50px;height:27.11px;line-height:27.11px;padding-top:1px">D.y11</div>
<div class="a t" style="left:640.10px;top:593.90px;width:82.20px;height:27.11px;line-height:27.11px;padding-top:1px">920</div>
<div class="a t" style="left:720.70px;top:593.90px;width:81.60px;height:27.11px;line-height:27.11px;padding-top:1px">6000</div>
<div class="a t" style="left:803.50px;top:593.90px;width:91.60px;height:27.11px;line-height:27.11px;padding-top:1px">1.2</div>
<div class="a t" style="left:894.60px;top:593.90px;width:104.20px;height:27.11px;line-height:27.11px;padding-top:1px">4.5</div>
<div class="a t" style="left:1001.30px;top:593.90px;width:198.40px;height:27.11px;line-height:27.11px;padding-top:1px">1150<span class="x">×</span>550<span class="x">×</span>900</div>
<div class="a t" style="left:-0.30px;top:620.89px;width:168.00px;height:28.11px;line-height:28.11px;padding-top:1px">ZHSG<span class="m">−</span>315/0.5</div>
<div class="a t" style="left:168.00px;top:620.89px;width:98.80px;height:28.11px;line-height:28.11px;padding-top:1px">315</div>
<div class="a t" style="left:267.30px;top:620.89px;width:59.70px;height:28.11px;line-height:28.11px;padding-top:1px">3</div>
<div class="a t" style="left:325.80px;top:620.89px;width:108.60px;height:28.11px;line-height:28.11px;padding-top:1px">380</div>
<div class="a t" style="left:544.00px;top:620.89px;width:96.50px;height:28.11px;line-height:28.11px;padding-top:1px">D.y11</div>
<div class="a t" style="left:640.10px;top:620.89px;width:82.20px;height:28.11px;line-height:28.11px;padding-top:1px">1120</div>
<div class="a t" style="left:720.70px;top:620.89px;width:81.60px;height:28.11px;line-height:28.11px;padding-top:1px">6800</div>
<div class="a t" style="left:803.50px;top:620.89px;width:91.60px;height:28.11px;line-height:28.11px;padding-top:1px">1.1</div>
<div class="a t" style="left:894.60px;top:620.89px;width:104.20px;height:28.11px;line-height:28.11px;padding-top:1px">4.5</div>
<div class="a t" style="left:1001.30px;top:620.89px;width:198.40px;height:28.11px;line-height:28.11px;padding-top:1px">1200<span class="x">×</span>550<span class="x">×</span>950</div>
<div class="a" style="left:435.60px;top:186.5px;width:109.10px;text-align:center;font-family:'Liberation Sans','Noto Sans CJK SC',sans-serif;font-size:21px;line-height:20.84px;color:#222;font-weight:300">
根<br>据<br>用<br>户<br>要<br>求<br>任<br>意<br>选<br>择
</div>
</body></html>
